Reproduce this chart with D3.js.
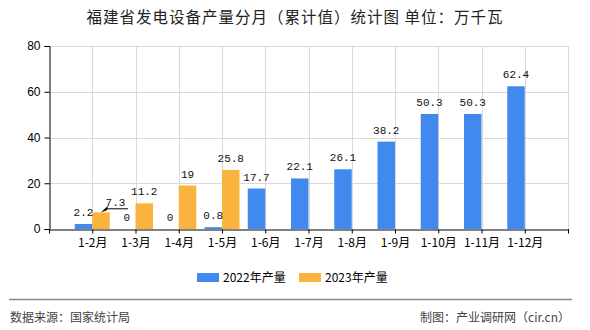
<!DOCTYPE html>
<html><head><meta charset="utf-8">
<script src="https://cdn.jsdelivr.net/npm/d3@7"></script>
<style>body{margin:0;background:#fff}svg{display:block}</style>
</head><body>
<script>
const categories = ["1-2月","1-3月","1-4月","1-5月","1-6月","1-7月","1-8月","1-9月","1-10月","1-11月","1-12月"];
const values2022 = [2.2, 0, 0, 0.8, 17.7, 22.1, 26.1, 38.2, 50.3, 50.3, 62.4];
const values2023 = [7.3, 11.2, 19, 25.8, null, null, null, null, null, null, null];
const seriesNames = ["2022年产量", "2023年产量"];
const yTicks = [0, 20, 40, 60, 80];
const titleText = "福建省发电设备产量分月（累计值）统计图 单位：万千瓦";
const sourceText = "数据来源：国家统计局";
const creditText = "制图：产业调研网（cir.cn）";

const W = 590, H = 330;
const colors = ["#4189EE", "#FBB33F"];
const mLeft = 49, mRight = 568, mTop = 46, mBottom = 229;

const svg = d3.select("body").append("svg").attr("width", W).attr("height", H);
const cjk = "'Noto Sans CJK SC', 'Noto Sans', sans-serif";
const mono = "'Liberation Mono', 'DejaVu Sans Mono', monospace";

svg.append("text").attr("x", 295).attr("y", 23).attr("text-anchor", "middle")
  .attr("font-family", cjk).attr("font-size", 15.5).attr("letter-spacing", 1).attr("fill", "#222").text(titleText);

const x = d3.scalePoint().domain(categories).range([mLeft, mRight]).padding(1);
const y = d3.scaleLinear().domain([0, 80]).range([mBottom, mTop]);
const bw = 17.5;

// grid
const grid = svg.append("g").attr("stroke", "#d9d9d9").attr("stroke-width", 1);
yTicks.filter(t => t > 0).forEach(t => {
  grid.append("line").attr("x1", mLeft).attr("x2", mRight)
    .attr("y1", Math.round(y(t)) + 0.5).attr("y2", Math.round(y(t)) + 0.5);
});
categories.map(c => x(c)).concat([mRight]).forEach(px => {
  grid.append("line").attr("x1", Math.round(px) + 0.5).attr("x2", Math.round(px) + 0.5)
    .attr("y1", mTop).attr("y2", mBottom);
});

// bars
const series = [values2022, values2023];
series.forEach((vals, si) => {
  svg.append("g").selectAll("rect").data(categories.map((c, i) => ({c, v: vals[i]})).filter(d => d.v != null))
    .join("rect")
    .attr("x", d => si === 0 ? x(d.c) - bw : x(d.c))
    .attr("width", bw)
    .attr("y", d => y(d.v))
    .attr("height", d => mBottom - y(d.v))
    .attr("fill", colors[si]);
});

// axes
const yAxis = svg.append("g").attr("transform", `translate(${mLeft + 0.5},0)`)
  .call(d3.axisLeft(y).tickValues(yTicks).tickSize(5).tickPadding(4));
yAxis.select(".domain").attr("stroke", "#000");
yAxis.selectAll(".tick line").attr("stroke", "#000");
yAxis.selectAll("text").attr("font-family", "'Liberation Sans', Arial, sans-serif").attr("font-size", 12).attr("fill", "#000");

const xAxis = svg.append("g").attr("transform", `translate(0,${mBottom + 0.5})`)
  .call(d3.axisBottom(x).tickSize(4).tickPadding(5).tickSizeOuter(4));
xAxis.select(".domain").attr("stroke", "#000");
xAxis.selectAll(".tick line").attr("stroke", "#000");
xAxis.selectAll("text").attr("font-family", cjk).attr("font-size", 12).attr("fill", "#000");
[mLeft, mRight].forEach(px => {
  svg.append("line").attr("x1", px + 0.5).attr("x2", px + 0.5).attr("y1", mBottom).attr("y2", mBottom + 4).attr("stroke", "#000");
});

// value labels
const labels = svg.append("g").attr("font-family", mono).attr("font-size", 11).attr("fill", "#111").attr("text-anchor", "middle");
series.forEach((vals, si) => {
  vals.forEach((v, i) => {
    if (v == null) return;
    const cx = si === 0 ? x(categories[i]) - bw / 2 : x(categories[i]) + bw / 2;
    let ty = y(v) - 8;
    // label collision: 2023 first label moved right with a leader line
    if (si === 1 && i === 0) {
      const tx = cx + 14.5, lyy = ty + 4.5;
      labels.append("text").attr("x", tx).attr("y", ty + 1.5).text(String(v));
      svg.append("path").attr("d", `M${cx + 6},${lyy}H${cx + 27}`).attr("stroke", "#000").attr("fill", "none");
      svg.append("path").attr("d", `M${cx},${y(v)} L${cx + 7},${lyy - 3} L${cx + 6},${lyy + 1.5} Z`).attr("fill", "#000");
      return;
    }
    labels.append("text").attr("x", cx).attr("y", ty).text(String(v));
  });
});

// legend
const lg = svg.append("g").attr("font-family", cjk).attr("font-size", 12).attr("fill", "#000");
const lx = [197, 299];
seriesNames.forEach((n, i) => {
  lg.append("rect").attr("x", lx[i]).attr("y", 273).attr("width", 22).attr("height", 9).attr("fill", colors[i]);
  lg.append("text").attr("x", lx[i] + 26).attr("y", 282).text(n);
});

// footer
svg.append("line").attr("x1", 9).attr("x2", 572).attr("y1", 299.5).attr("y2", 299.5).attr("stroke", "#888").attr("stroke-width", 1.5);
svg.append("text").attr("x", 10).attr("y", 322).attr("font-family", cjk).attr("font-size", 12).attr("fill", "#444").text(sourceText);
svg.append("text").attr("x", 570).attr("y", 322).attr("text-anchor", "end").attr("font-family", cjk).attr("font-size", 12).attr("fill", "#444").text(creditText);
</script>
</body></html>
